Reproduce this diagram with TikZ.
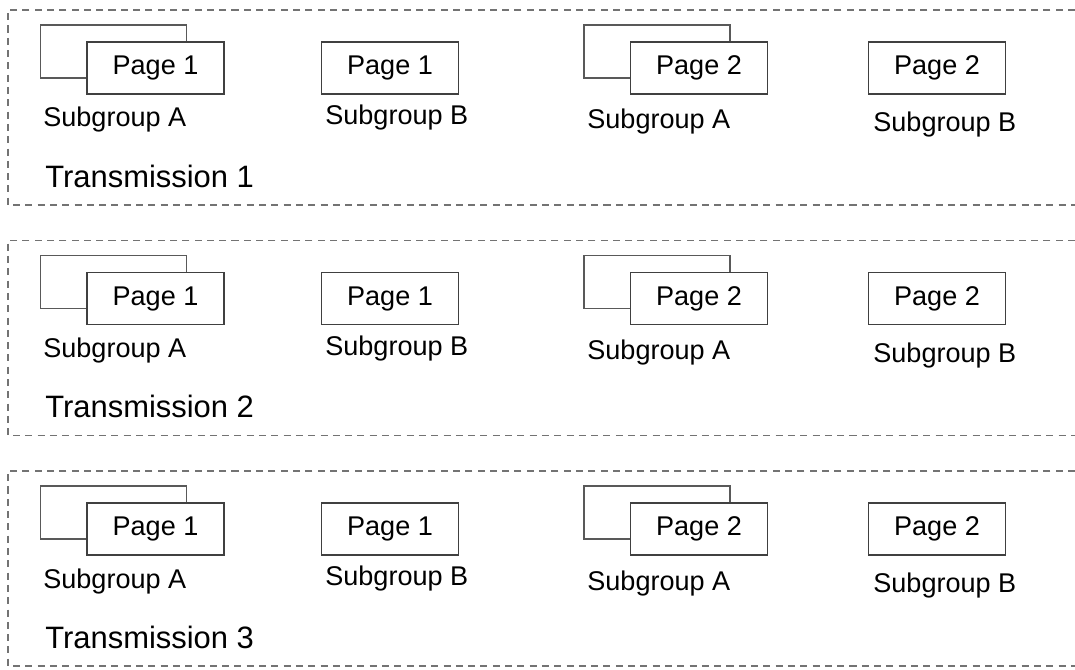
\documentclass[tikz,border=0pt]{standalone}
\usepackage{fontspec}
\setmainfont{Liberation Sans}
\begin{document}
\begin{tikzpicture}[
    pagebox/.style={draw=black!75,line width=0.8pt,fill=white,minimum width=2.74cm,minimum height=1.04cm,inner sep=0pt,font=\fontsize{15.4}{18}\selectfont},
    backbox/.style={draw=black!65,line width=0.8pt,minimum width=2.92cm,minimum height=1.06cm,inner sep=0pt},
    sublabel/.style={anchor=west,inner sep=0pt,font=\fontsize{15.4}{18}\selectfont},
    translabel/.style={anchor=west,inner sep=0pt,font=\fontsize{17.6}{20}\selectfont},
    framebox/.style={draw=black!55,dash pattern=on 4pt off 3pt,line width=0.6pt}
]
    \useasboundingbox (0,0) rectangle (21.5,-13.4);

    \foreach \y/\n in {0.2/1,4.81/2,9.42/3} {
        %%%%%%%% Cornice %%%%%%%%%
        \draw[framebox] (21.5,-\y) -- (0.16,-\y) -- (0.16,-\y-3.9) -- (21.5,-\y-3.9);

        %%%%%%%% Pagine %%%%%%%%%
        \node[backbox] (backA1-\n) at (2.27,-\y-0.83) {};
        \node[pagebox] (pageA1-\n) at (3.11,-\y-1.16) {Page 1};
        \node[pagebox] (pageB1-\n) at (7.80,-\y-1.16) {Page 1};
        \node[backbox] (backA2-\n) at (13.14,-\y-0.83) {};
        \node[pagebox] (pageA2-\n) at (13.98,-\y-1.16) {Page 2};
        \node[pagebox] (pageB2-\n) at (18.74,-\y-1.16) {Page 2};

        %%%%%%%%% Testo %%%%%%%%%%
        \node[sublabel] (subA1-\n) at (0.86,-\y-2.20) {Subgroup A};
        \node[sublabel] (subB1-\n) at (6.50,-\y-2.16) {Subgroup B};
        \node[sublabel] (subA2-\n) at (11.74,-\y-2.24) {Subgroup A};
        \node[sublabel] (subB2-\n) at (17.46,-\y-2.30) {Subgroup B};
        \node[translabel] (trans-\n) at (0.90,-\y-3.32) {Transmission \n};
    }

\end{tikzpicture}
\end{document}
